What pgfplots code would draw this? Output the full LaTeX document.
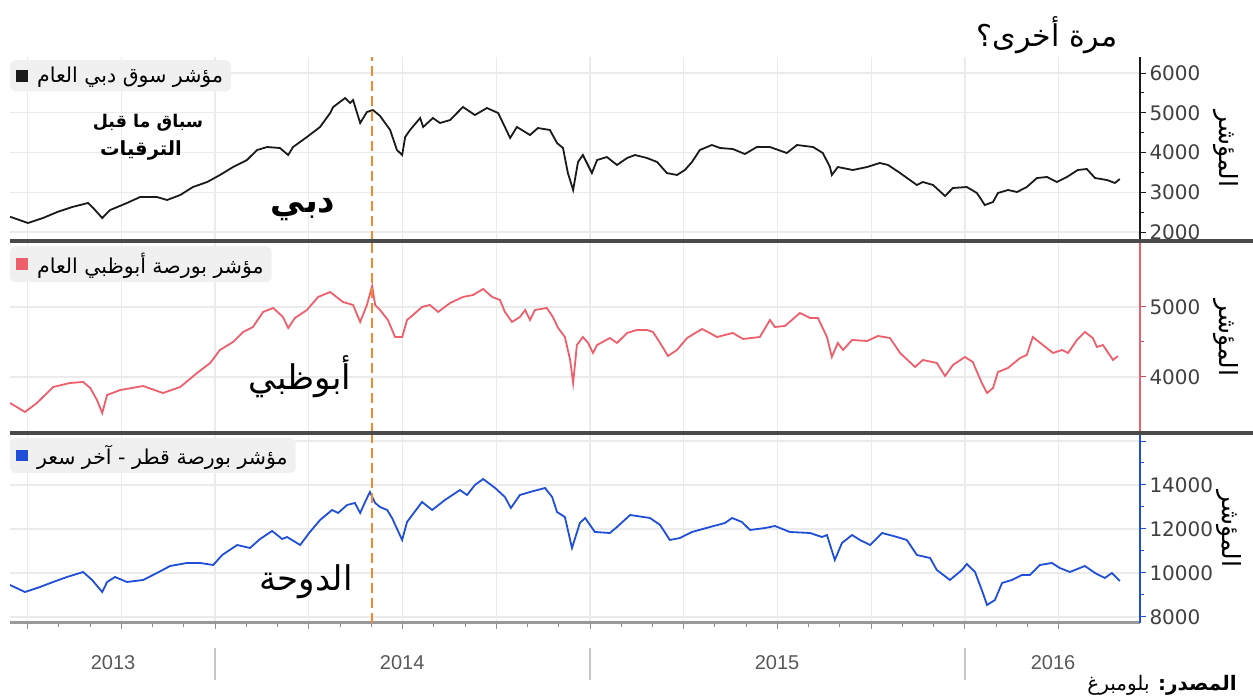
\documentclass[border=0pt]{standalone}
\usepackage{pgfplots}
\usepackage{pgfplotstable}
\pgfplotsset{compat=1.18}
\usepackage{fontspec}
\setmainfont{DejaVu Sans}
\newfontfamily\arabicfont[Script=Arabic]{DejaVu Sans}
\newfontfamily\yearfont{Liberation Sans}
\TeXXeTstate=1
\newcommand{\AR}[1]{{\arabicfont\beginR #1\endR}}
\definecolor{dubai}{HTML}{1A1A1A}
\definecolor{abud}{HTML}{EE5F6C}
\definecolor{doha}{HTML}{1F4FD8}
\definecolor{upg}{HTML}{F08A30}
\definecolor{gridc}{HTML}{EBEBEB}
\definecolor{sepc}{HTML}{4A4A4A}
\definecolor{tickc}{HTML}{404040}

\pgfplotstableread{
t v
2013.453 2385
2013.501 2226
2013.541 2352
2013.579 2503
2013.619 2629
2013.661 2730
2013.675 2604
2013.699 2352
2013.720 2553
2013.765 2730
2013.800 2880
2013.845 2880
2013.872 2805
2013.907 2931
2013.941 3132
2013.979 3258
2014.013 3434
2014.048 3635
2014.085 3811
2014.112 4063
2014.139 4138
2014.173 4113
2014.195 3937
2014.208 4138
2014.245 4390
2014.280 4642
2014.307 4994
2014.315 5145
2014.347 5371
2014.360 5245
2014.368 5321
2014.387 4742
2014.405 5019
2014.421 5069
2014.440 4920
2014.467 4566
2014.485 4063
2014.499 3937
2014.507 4390
2014.520 4566
2014.547 4868
2014.555 4642
2014.581 4868
2014.600 4742
2014.627 4818
2014.661 5145
2014.693 4943
2014.725 5119
2014.755 4994
2014.773 4642
2014.787 4365
2014.805 4642
2014.840 4440
2014.861 4616
2014.893 4566
2014.912 4239
2014.928 4113
2014.941 3484
2014.955 3057
2014.968 3761
2014.981 3937
2015.005 3484
2015.019 3811
2015.045 3887
2015.072 3686
2015.099 3862
2015.120 3937
2015.152 3862
2015.179 3761
2015.205 3484
2015.232 3434
2015.253 3560
2015.272 3761
2015.293 4063
2015.325 4189
2015.347 4113
2015.381 4088
2015.413 3962
2015.445 4138
2015.480 4138
2015.525 3987
2015.552 4189
2015.595 4138
2015.621 3987
2015.640 3635
2015.645 3434
2015.661 3635
2015.701 3560
2015.739 3635
2015.773 3736
2015.795 3686
2015.827 3484
2015.872 3182
2015.888 3258
2015.915 3182
2015.947 2906
2015.968 3107
2016.005 3132
2016.032 2981
2016.053 2679
2016.075 2755
2016.088 2981
2016.115 3057
2016.139 3006
2016.165 3132
2016.192 3358
2016.219 3384
2016.245 3258
2016.272 3384
2016.301 3560
2016.325 3585
2016.347 3358
2016.379 3308
2016.400 3233
2016.413 3333
}\dubaidata

\pgfplotstableread{
t v
2013.453 3629
2013.493 3500
2013.525 3629
2013.568 3857
2013.613 3914
2013.648 3929
2013.667 3843
2013.685 3671
2013.699 3486
2013.712 3743
2013.747 3814
2013.808 3871
2013.861 3771
2013.907 3857
2013.952 4057
2013.987 4200
2014.013 4386
2014.048 4500
2014.075 4643
2014.101 4714
2014.128 4929
2014.155 4986
2014.181 4857
2014.195 4700
2014.213 4843
2014.245 4957
2014.275 5143
2014.307 5214
2014.341 5071
2014.368 5029
2014.387 4786
2014.405 5029
2014.419 5300
2014.427 5029
2014.440 4957
2014.461 4814
2014.480 4571
2014.499 4571
2014.512 4814
2014.528 4886
2014.552 5000
2014.573 5029
2014.595 4929
2014.627 5057
2014.661 5143
2014.688 5171
2014.715 5257
2014.739 5143
2014.760 5100
2014.773 4929
2014.792 4786
2014.813 4857
2014.827 4957
2014.840 4814
2014.853 4957
2014.885 4986
2014.901 4857
2014.915 4700
2014.933 4571
2014.947 4243
2014.955 3914
2014.965 4457
2014.981 4571
2014.995 4486
2015.008 4343
2015.019 4457
2015.053 4557
2015.072 4486
2015.099 4629
2015.125 4671
2015.152 4671
2015.168 4643
2015.187 4486
2015.208 4300
2015.232 4386
2015.259 4557
2015.299 4686
2015.339 4571
2015.381 4629
2015.408 4543
2015.453 4571
2015.480 4814
2015.493 4714
2015.520 4729
2015.560 4914
2015.587 4843
2015.608 4843
2015.632 4571
2015.645 4286
2015.661 4486
2015.675 4386
2015.699 4529
2015.739 4514
2015.768 4586
2015.800 4557
2015.827 4343
2015.867 4143
2015.888 4243
2015.925 4200
2015.947 4014
2015.968 4171
2016.000 4286
2016.021 4214
2016.045 3914
2016.059 3771
2016.075 3843
2016.088 4071
2016.115 4129
2016.147 4271
2016.165 4314
2016.181 4571
2016.208 4457
2016.235 4343
2016.259 4386
2016.275 4343
2016.299 4529
2016.320 4643
2016.341 4557
2016.352 4429
2016.368 4457
2016.395 4243
2016.408 4300
}\abudata

\pgfplotstableread{
t v
2013.453 9455
2013.493 9136
2013.533 9364
2013.568 9591
2013.605 9818
2013.648 10045
2013.672 9682
2013.699 9136
2013.712 9591
2013.733 9818
2013.765 9591
2013.808 9682
2013.845 10000
2013.880 10318
2013.925 10455
2013.960 10455
2013.995 10364
2014.019 10818
2014.059 11273
2014.093 11136
2014.120 11545
2014.152 11909
2014.179 11545
2014.192 11636
2014.227 11273
2014.253 11864
2014.280 12409
2014.312 12864
2014.328 12727
2014.352 13091
2014.373 13182
2014.387 12727
2014.400 13227
2014.413 13682
2014.427 13182
2014.440 13000
2014.459 12864
2014.472 12500
2014.499 11500
2014.512 12318
2014.552 13227
2014.579 12864
2014.613 13318
2014.653 13773
2014.672 13545
2014.693 14000
2014.715 14273
2014.747 13864
2014.773 13455
2014.789 12955
2014.813 13545
2014.840 13682
2014.880 13864
2014.899 13455
2014.912 12773
2014.933 12545
2014.952 11136
2014.973 12273
2014.987 12500
2015.013 11864
2015.053 11818
2015.072 12091
2015.107 12636
2015.160 12500
2015.187 12182
2015.213 11500
2015.240 11591
2015.272 11864
2015.320 12091
2015.360 12273
2015.379 12500
2015.405 12318
2015.427 11955
2015.467 12045
2015.493 12136
2015.533 11864
2015.587 11818
2015.619 11636
2015.632 11727
2015.653 10591
2015.672 11364
2015.699 11727
2015.720 11500
2015.747 11273
2015.779 11818
2015.819 11636
2015.845 11500
2015.872 10818
2015.907 10682
2015.925 10136
2015.960 9682
2015.992 10136
2016.005 10409
2016.027 10045
2016.045 9227
2016.059 8545
2016.080 8773
2016.099 9545
2016.125 9682
2016.152 9909
2016.173 9909
2016.200 10364
2016.232 10455
2016.253 10227
2016.280 10045
2016.320 10318
2016.347 10000
2016.373 9773
2016.392 10000
2016.413 9636
}\dohadata

\pgfplotsset{
  panel/.style={
    scale only axis, width=1130pt,
    xmin=2013.453, xmax=2016.467,
    axis y line*=right,
    axis x line*=bottom,
    xtick={2013.5,2013.75,2014,2014.25,2014.5,2014.75,2015,2015.25,2015.5,2015.75,2016,2016.25},
    xticklabels={},
    xmajorgrids, ymajorgrids,
    grid style={gridc, line width=1.3pt},
    minor y tick num=1,
    scaled y ticks=false,
    /pgf/number format/1000 sep={},
    /pgf/number format/assume math mode=true,
    yticklabel style={font=\fontsize{20}{22}\selectfont, text=tickc},
    major tick length=6pt, minor tick length=4pt,
    tick align=outside,
    ylabel={\AR{المؤشر}},
    ylabel style={at={(axis description cs:1.0761,0.5)}, anchor=center, rotate=180, font=\fontsize{25}{27}\selectfont},
    legend style={at={(0,1)}, anchor=north west, yshift=-3pt, fill=black!6, draw=none,
      rounded corners=5pt, font=\fontsize{20.5}{22}\selectfont, inner xsep=6pt, inner ysep=5pt},
    legend cell align=left,
  },
  toppanel/.style={x axis line style={draw=none}, xtick style={draw=none}},
  sqleg/.style={legend image code/.code={\path[draw=none, fill=none] (0pt,0pt) -- (18pt,0pt); \fill[#1, sharp corners] (0pt,-5pt) rectangle (10pt,5pt);}},
}

\begin{document}
\begin{tikzpicture}[x=1pt,y=1pt]
\useasboundingbox (0,0) rectangle (1253,698);
\fill[white] (0,0) rectangle (1253,698);

% Dubai
\begin{axis}[panel, toppanel, at={(10pt,457pt)}, anchor=south west, height=184pt,
  ymin=1774, ymax=6403, ytick={2000,3000,4000,5000,6000},
  y axis line style={dubai, line width=1.5pt}, ytick style={dubai, line width=1pt}]
\addplot[dubai, line width=1.8pt, sqleg=dubai] table[x=t,y=v] {\dubaidata};
\addlegendentry{\AR{مؤشر سوق دبي العام}}
\addplot[upg, line width=2.5pt, dash pattern=on 10pt off 5pt, forget plot] coordinates {(2014.419,1774) (2014.419,6403)};
\end{axis}

% Abu Dhabi
\begin{axis}[panel, toppanel, at={(10pt,265pt)}, anchor=south west, height=190pt,
  ymin=3200, ymax=5914, ytick={4000,5000},
  y axis line style={abud, line width=1.5pt}, ytick style={abud!80!black, line width=1pt}]
\addplot[abud, line width=1.8pt, sqleg=abud] table[x=t,y=v] {\abudata};
\addlegendentry{\AR{مؤشر بورصة أبوظبي العام}}
\addplot[upg, line width=2.5pt, dash pattern=on 10pt off 5pt, forget plot] coordinates {(2014.419,3200) (2014.419,5914)};
\end{axis}

% Doha
\begin{axis}[panel, at={(10pt,75pt)}, anchor=south west, height=188pt,
  ymin=7727, ymax=16273, ytick={8000,10000,12000,14000,16000},
  yticklabels={8000,10000,12000,14000,{}},
  minor y tick num=1,
  ylabel style={at={(axis description cs:1.0788,0.5)}},
  y axis line style={doha, line width=1.5pt}, ytick style={doha, line width=1pt},
  x axis line style={black!40, line width=3pt},
  xtick style={black!45, line width=1pt},
  minor x tick num=2,
  extra x ticks={2013.728,2014.499,2015.499,2016.235},
  extra x tick labels={2013,2014,2015,2016},
  extra x tick style={grid=none, major tick length=0pt,
    xticklabel style={font=\yearfont\fontsize{20}{22}\selectfont, text=black!65, yshift=-29pt}}]
\addplot[doha, line width=1.8pt, sqleg=doha] table[x=t,y=v] {\dohadata};
\addlegendentry{\AR{مؤشر بورصة قطر - آخر سعر}}
\addplot[upg, line width=2.5pt, dash pattern=on 10pt off 5pt, forget plot] coordinates {(2014.419,7727) (2014.419,16273)};
\end{axis}

% panel separators
\draw[sepc, line width=4pt] (10,457) -- (1253,457);
\draw[sepc, line width=4pt] (10,265) -- (1253,265);
% year separators
\foreach \xx in {215,590,965} \draw[black!22, line width=1.5pt] (\xx,50) -- (\xx,18);

% annotations
\node[font=\arabicfont\bfseries\fontsize{17.5}{22}\selectfont] at (148,575) {\beginR سباق ما قبل\endR};
\node[font=\arabicfont\bfseries\fontsize{19.5}{22}\selectfont] at (141,548) {\beginR الترقيات\endR};
\node[font=\arabicfont\bfseries\fontsize{34}{36}\selectfont] at (303,488) {\beginR دبي\endR};
\node[font=\arabicfont\fontsize{34}{36}\selectfont] at (300,321) {\beginR أبوظبي\endR};
\node[font=\arabicfont\fontsize{34}{36}\selectfont] at (306,116) {\beginR الدوحة\endR};
\node[font=\arabicfont\fontsize{30}{34}\selectfont] at (1047,663) {\beginR مرة أخرى؟\endR};
\node[font=\arabicfont\fontsize{20}{22}\selectfont] at (1162,13) {\beginR\textbf{المصدر:} بلومبرغ\endR};
\end{tikzpicture}
\end{document}
